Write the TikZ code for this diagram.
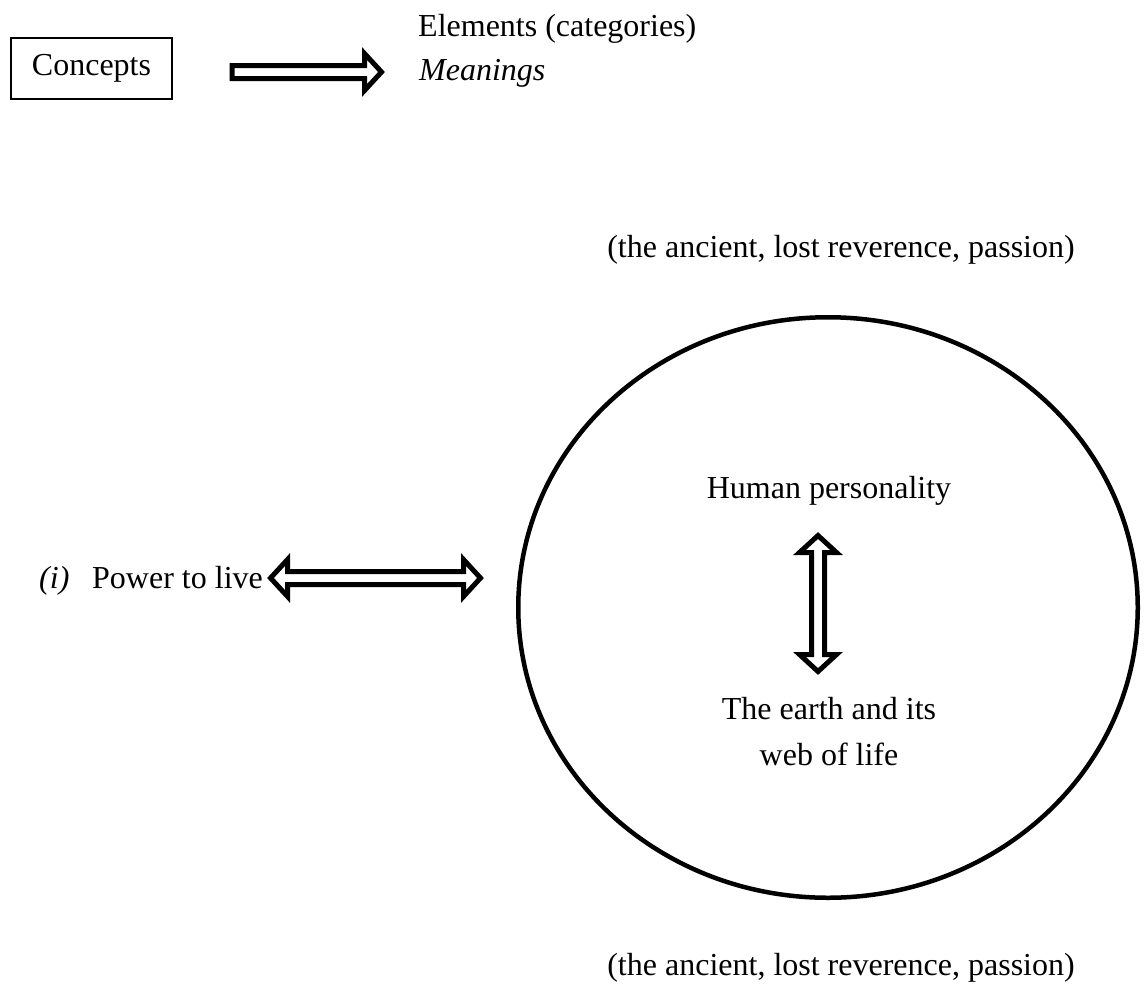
\documentclass[tikz,border=0pt]{standalone}
\usepackage{fontspec}
\setmainfont{Liberation Serif}
\usetikzlibrary{calc,shapes.geometric}
\begin{document}
\begin{tikzpicture}[x=1pt,y=-1pt,
  txt/.style={inner sep=0pt, font=\fontsize{32}{38}\selectfont},
  hollow/.style={draw=black, line width=5pt, fill=white, line join=miter, miter limit=4},
  framebox/.style={draw=black, line width=1.6pt, inner sep=0pt, minimum width=161.5pt, minimum height=61.5pt}]
\useasboundingbox (0,0) rectangle (1148,983);

% --- top row: concept box, block arrow, its two readings
\node[framebox, txt] (concepts) at (91.5,68.5) {Concepts};
\node[txt, anchor=base west] (elements) at (418,36) {Elements (categories)};
\node[txt, anchor=base west] (meanings) at (419,80) {\itshape Meanings};

\coordinate (r0) at ($(concepts.east)+(59,3.5)$);
\coordinate (r1) at ($(meanings.base west)+(-37.5,-8)$);
\draw[hollow] ($(r0)+(0,-6.5)$) -- ($(r1)+(-17,-6.5)$) -- ($(r1)+(-17,-18.5)$)
  -- (r1) -- ($(r1)+(-17,18.5)$) -- ($(r1)+(-17,6.5)$) -- ($(r0)+(0,6.5)$) -- cycle;

% --- the circle and its captions
\node[txt, anchor=base] (upper) at (841,257) {(the ancient, lost reverence, passion)};
\node[draw=black, line width=4.5pt, ellipse, minimum width=619.5pt, minimum height=580.5pt, inner sep=0pt] (world) at (828,607.5) {};
\node[txt, anchor=base] (lower) at (841,975) {(the ancient, lost reverence, passion)};

\node[txt, anchor=base] (human) at (829,498) {Human personality};
\node[txt, anchor=base] (earth) at (829,719) {The earth and its};
\node[txt, anchor=base] (web) at (829,765) {web of life};

% vertical double block arrow between the two inner labels
\coordinate (v0) at ($(human.base)+(-11,37.5)$);
\coordinate (v1) at ($(earth.base)+(-11,-47.5)$);
\draw[hollow] (v0) -- ($(v0)+(18.5,17)$) -- ($(v0)+(6.5,17)$) -- ($(v1)+(6.5,-17)$)
  -- ($(v1)+(18.5,-17)$) -- (v1) -- ($(v1)+(-18.5,-17)$) -- ($(v1)+(-6.5,-17)$)
  -- ($(v0)+(-6.5,17)$) -- ($(v0)+(-18.5,17)$) -- cycle;

% --- left label and horizontal double block arrow to the circle
\node[txt, anchor=base west] (item) at (39,588) {\itshape (i)};
\node[txt, anchor=base west] (power) at (92,588) {Power to live};

\coordinate (h0) at ($(power.base east)+(7.5,-10)$);
\coordinate (h1) at ($(world.west)+(-35.5,-29.5)$);
\draw[hollow] (h0) -- ($(h0)+(17,-18.5)$) -- ($(h0)+(17,-6.5)$) -- ($(h1)+(-17,-6.5)$)
  -- ($(h1)+(-17,-18.5)$) -- (h1) -- ($(h1)+(-17,18.5)$) -- ($(h1)+(-17,6.5)$)
  -- ($(h0)+(17,6.5)$) -- ($(h0)+(17,18.5)$) -- cycle;
\end{tikzpicture}
\end{document}
